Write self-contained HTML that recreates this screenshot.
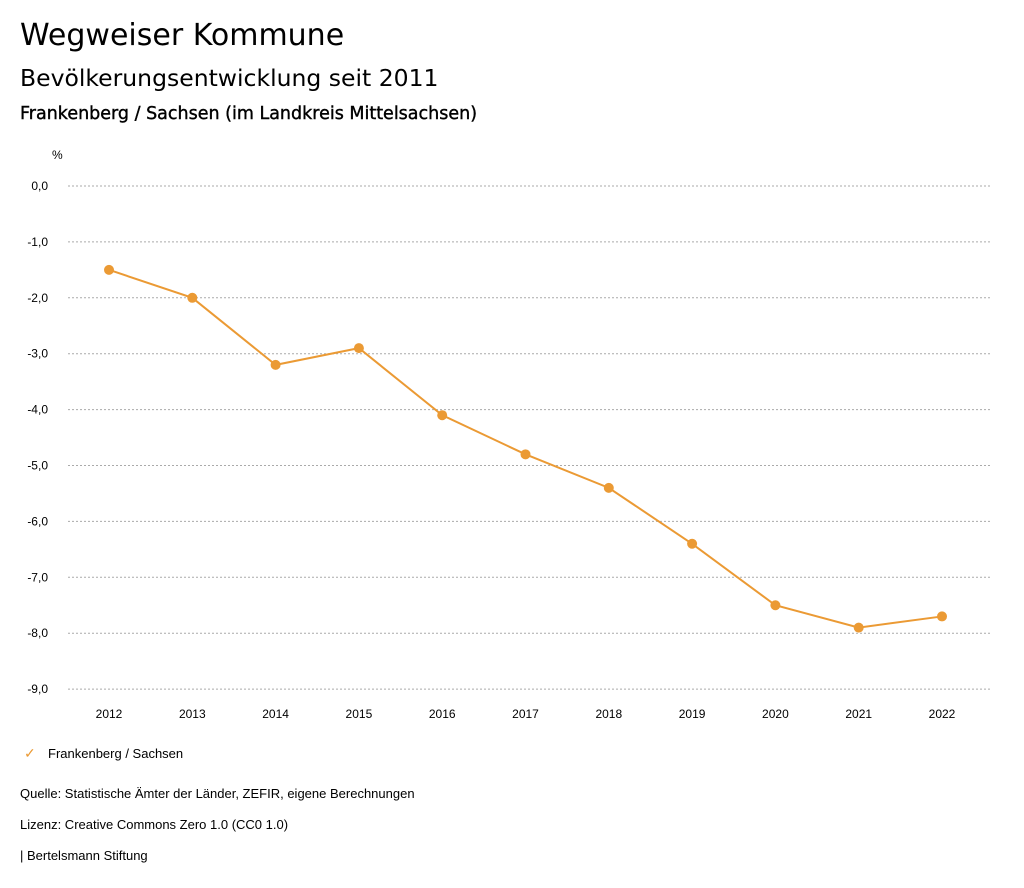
<!DOCTYPE html>
<html><head><meta charset="utf-8"><style>
body{margin:0;width:1024px;height:888px;background:#fff;font-family:"Liberation Sans",sans-serif;color:#000;overflow:hidden;position:relative}
.t{position:absolute;white-space:nowrap}
.d{font-family:"DejaVu Sans",sans-serif}
</style></head><body>
<div class="t d" style="left:20px;top:18px;font-size:30px">Wegweiser Kommune</div>
<div class="t d" style="left:20px;top:64px;font-size:23.5px">Bevölkerungsentwicklung seit 2011</div>
<div class="t d" style="left:20px;top:104px;font-size:17.5px;-webkit-text-stroke:0.4px #000">Frankenberg / Sachsen (im Landkreis Mittelsachsen)</div>
<svg id="chart" width="1024" height="888" style="position:absolute;left:0;top:0"></svg>
<div class="t" style="left:24px;top:745px;font-size:13px"><span style="color:#eb9a34;font-size:14px;display:inline-block;width:24px">✓</span>Frankenberg / Sachsen</div>
<div class="t" style="left:20px;top:786px;font-size:13px">Quelle: Statistische Ämter der Länder, ZEFIR, eigene Berechnungen</div>
<div class="t" style="left:20px;top:817px;font-size:13px">Lizenz: Creative Commons Zero 1.0 (CC0 1.0)</div>
<div class="t" style="left:20px;top:848px;font-size:13px">| Bertelsmann Stiftung</div>
<script>
const years=["2012","2013","2014","2015","2016","2017","2018","2019","2020","2021","2022"];
const values=[-1.5,-2.0,-3.2,-2.9,-4.1,-4.8,-5.4,-6.4,-7.5,-7.9,-7.7];
const yTicks=[0,-1,-2,-3,-4,-5,-6,-7,-8,-9];
const svg=document.getElementById('chart');const NS='http://www.w3.org/2000/svg';
const y=v=>186+(-v)*55.9;const x=i=>109+i*83.3;
function mk(t,a){const e=document.createElementNS(NS,t);for(const k in a)e.setAttribute(k,a[k]);svg.appendChild(e);return e;}
let u=mk('text',{x:52,y:159,'font-size':12,'font-family':'Liberation Sans'});u.textContent='%';


yTicks.forEach(v=>{
 const l=mk('line',{x1:68,x2:990,y1:y(v),y2:y(v),stroke:'#aaa','stroke-dasharray':'2,2','stroke-width':1});
 
 
 const t=mk('text',{x:48,y:y(v)+4,'font-size':12,'text-anchor':'end','font-family':'Liberation Sans'});
 t.textContent=v.toFixed(1).replace('.',',');
 
 
});
years.forEach((yr,i)=>{
 const t=mk('text',{x:x(i),y:718,'font-size':12,'text-anchor':'middle','font-family':'Liberation Sans'});
 t.textContent=yr;
 
 
});
const p=mk('polyline',{points:values.map((v,i)=>x(i)+','+y(v)).join(' '),fill:'none',stroke:'#eb9a34','stroke-width':2});


values.forEach((v,i)=>{
 const c=mk('circle',{cx:x(i),cy:y(v),r:5,fill:'#eb9a34'});
 
 
});
</script>
</body></html>
